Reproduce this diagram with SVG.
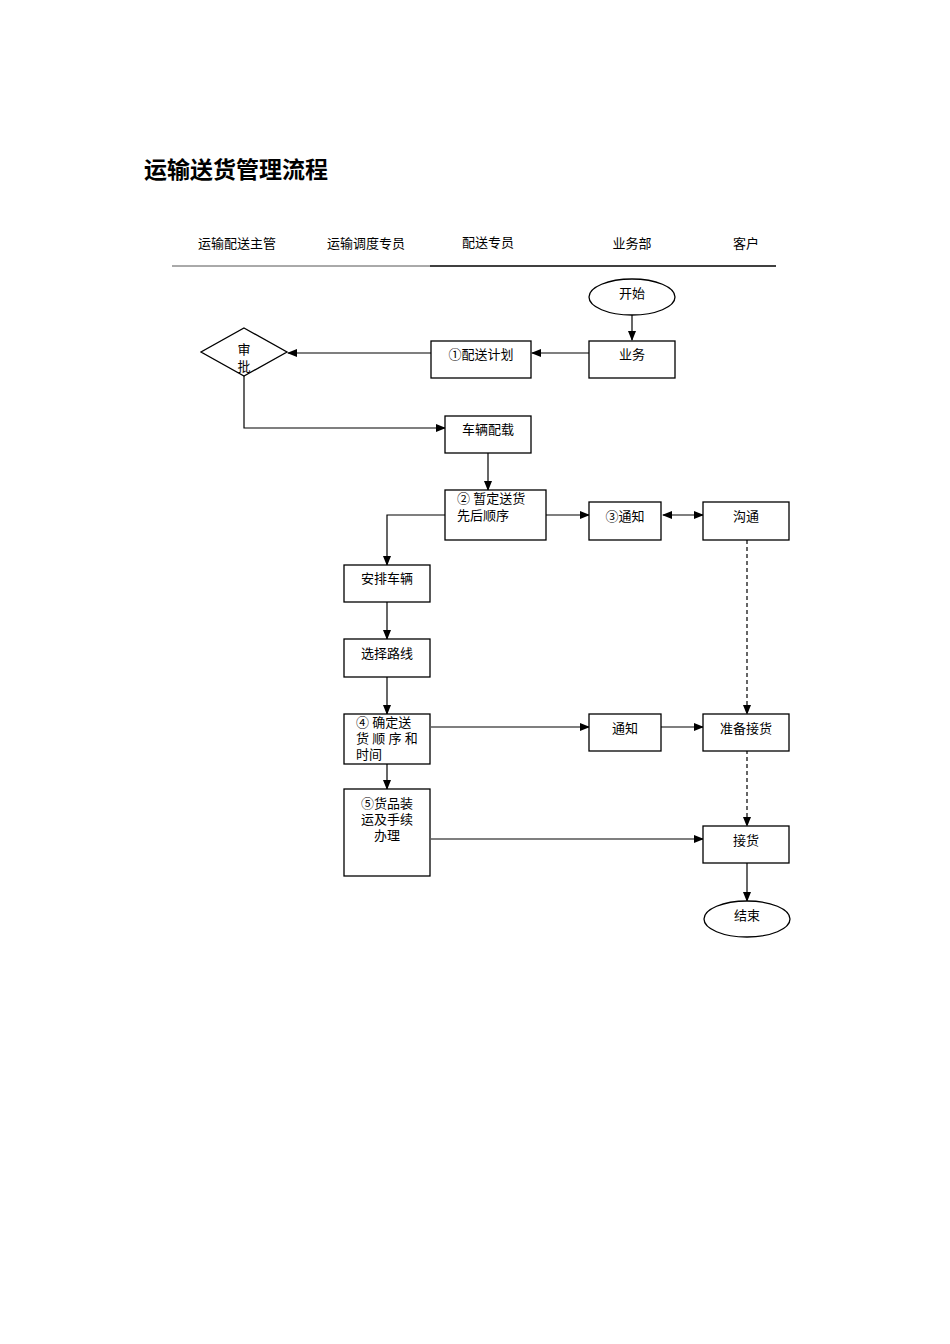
<svg xmlns="http://www.w3.org/2000/svg" width="950" height="1344" viewBox="0 0 950 1344">
<style>
text{font-family:"Liberation Serif","Noto Sans CJK SC",serif;font-size:13px;fill:#000}
.n{fill:#fff;stroke:#000;stroke-width:1.3}
.c{fill:none;stroke:#000;stroke-width:1.2}
.d{stroke-dasharray:4,3}
.m{text-anchor:middle}
</style>
<defs><marker id="a" markerWidth="10" markerHeight="8" refX="9" refY="4" orient="auto" markerUnits="userSpaceOnUse"><path d="M0,0L10,4L0,8z"/></marker>
<marker id="s" markerWidth="10" markerHeight="8" refX="1" refY="4" orient="auto" markerUnits="userSpaceOnUse"><path d="M10,0L0,4L10,8z"/></marker></defs>
<rect width="950" height="1344" fill="#fff"/>
<text x="144" y="178" style="font-size:23px;font-weight:bold;font-family:'Noto Sans CJK SC',sans-serif">运输送货管理流程</text>
<g id="header">
<text x="237" y="248" class="m">运输配送主管</text>
<text x="366" y="248" class="m">运输调度专员</text>
<text x="488" y="247" class="m">配送专员</text>
<text x="632" y="248" class="m">业务部</text>
<text x="746" y="248" class="m">客户</text>
<line x1="172" y1="266" x2="430" y2="266" stroke="#555" stroke-width="1"/>
<line x1="430" y1="266" x2="776" y2="266" stroke="#000" stroke-width="1.3"/>
</g>
<g id="connectors">
<path class="c" d="M632,315V340" marker-end="url(#a)"/>
<path class="c" d="M589,353H532" marker-end="url(#a)"/>
<path class="c" d="M431,353H288" marker-end="url(#a)"/>
<path class="c" d="M244,376V428H445" marker-end="url(#a)"/>
<path class="c" d="M488,453V490" marker-end="url(#a)"/>
<path class="c" d="M546,515H589" marker-end="url(#a)"/>
<path class="c" d="M663,515H703" marker-start="url(#s)" marker-end="url(#a)"/>
<path class="c" d="M445,515H387V565" marker-end="url(#a)"/>
<path class="c" d="M387,602V639" marker-end="url(#a)"/>
<path class="c" d="M387,677V714" marker-end="url(#a)"/>
<path class="c" d="M387,764V789" marker-end="url(#a)"/>
<path class="c" d="M431,727H589" marker-end="url(#a)"/>
<path class="c" d="M661,727H703" marker-end="url(#a)"/>
<path class="c d" d="M747,540V714" marker-end="url(#a)"/>
<path class="c d" d="M747,750V826" marker-end="url(#a)"/>
<path class="c" d="M431,839H703" marker-end="url(#a)"/>
<path class="c" d="M747,863V901" marker-end="url(#a)"/>
</g>
<g id="start"><ellipse class="n" cx="632" cy="297" rx="43" ry="18"/><text x="632" y="298" class="m">开始</text></g>
<g id="yewu"><rect class="n" x="589" y="341" width="86" height="37"/><text x="632" y="359" class="m">业务</text></g>
<g id="plan"><rect class="n" x="431" y="341" width="100" height="37"/><text x="481" y="359" class="m">①配送计划</text></g>
<g id="approve"><path class="n" d="M244,328L287,352L244,376L201,352z"/><text x="244" y="354" class="m">审</text><text x="244" y="371" class="m">批</text></g>
<g id="load"><rect class="n" x="445" y="416" width="86" height="37"/><text x="488" y="434" class="m">车辆配载</text></g>
<g id="order"><rect class="n" x="445" y="490" width="101" height="50"/><text x="457" y="503">② 暂定送货</text><text x="457" y="520">先后顺序</text></g>
<g id="notify3"><rect class="n" x="589" y="502" width="72" height="38"/><text x="625" y="521" class="m">③通知</text></g>
<g id="comm"><rect class="n" x="703" y="502" width="86" height="38"/><text x="746" y="521" class="m">沟通</text></g>
<g id="arrange"><rect class="n" x="344" y="565" width="86" height="37"/><text x="387" y="583" class="m">安排车辆</text></g>
<g id="route"><rect class="n" x="344" y="639" width="86" height="38"/><text x="387" y="658" class="m">选择路线</text></g>
<g id="confirm"><rect class="n" x="344" y="714" width="86" height="50"/><text x="356" y="727">④ 确定送</text><text x="356" y="743">货 顺 序 和</text><text x="356" y="759">时间</text></g>
<g id="notify"><rect class="n" x="589" y="714" width="72" height="37"/><text x="625" y="733" class="m">通知</text></g>
<g id="prep"><rect class="n" x="703" y="714" width="86" height="37"/><text x="746" y="733" class="m">准备接货</text></g>
<g id="ship"><rect class="n" x="344" y="789" width="86" height="87"/><text x="387" y="808" class="m">⑤货品装</text><text x="387" y="824" class="m">运及手续</text><text x="387" y="840" class="m">办理</text></g>
<g id="receive"><rect class="n" x="703" y="826" width="86" height="37"/><text x="746" y="845" class="m">接货</text></g>
<g id="end"><ellipse class="n" cx="747" cy="919" rx="43" ry="18"/><text x="747" y="920" class="m">结束</text></g>
</svg>
